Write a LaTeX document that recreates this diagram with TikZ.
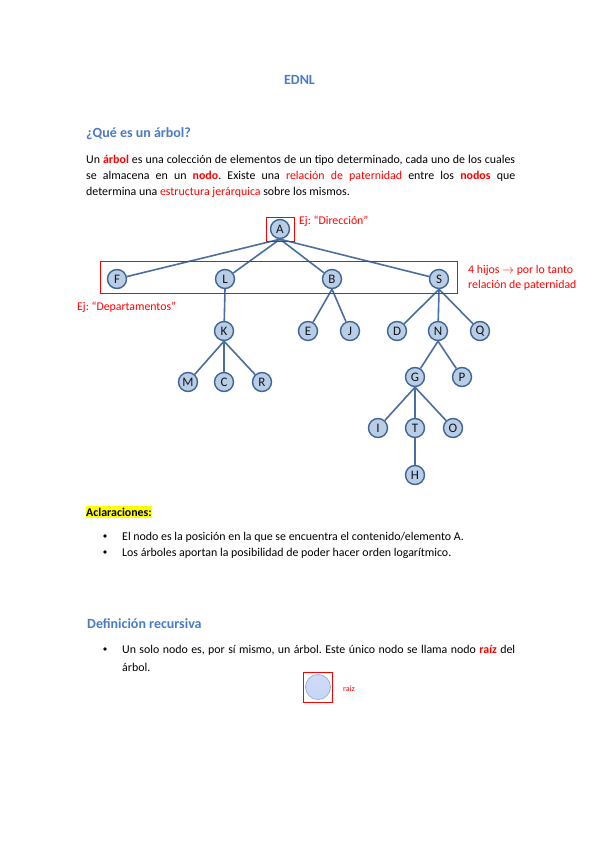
\documentclass[tikz,border=0pt]{standalone}
\usepackage{fontspec}
\setmainfont{Carlito}
\usetikzlibrary{positioning}
\definecolor{headblue}{HTML}{4A7BC6}
\definecolor{nodefill}{HTML}{B9CDE5}
\definecolor{nodedraw}{HTML}{3F6597}
\definecolor{edgecol}{HTML}{4A6E9F}
\definecolor{txtred}{HTML}{FF0000}
\definecolor{nodetxt}{HTML}{10151F}
\definecolor{hlyellow}{HTML}{FFFF00}
\definecolor{rootfill}{HTML}{C7D6F6}
\definecolor{rootdraw}{HTML}{9AB3E3}
\begin{document}
\frenchspacing
\begin{tikzpicture}[x=1pt,y=-1pt,
  tnode/.style={circle,draw=nodedraw,fill=nodefill,line width=1.4pt,minimum size=19pt,inner sep=0pt,font=\fontsize{13}{15}\selectfont,text=nodetxt},
  edge/.style={draw=edgecol,line width=1.6pt},
  redbox/.style={draw=txtred,line width=1pt},
  redlbl/.style={text=txtred,font=\fontsize{11.8}{14}\selectfont,inner sep=0pt},
  body/.style={inner sep=0pt,font=\fontsize{11.9}{16}\selectfont,text=black},
  heading/.style={inner sep=0pt,font=\bfseries\fontsize{14}{17}\selectfont,text=headblue},
  bul/.style={circle,fill=black,inner sep=0pt,minimum size=3.8pt}
]
\useasboundingbox[fill=white] (0,0) rectangle (599,848);

% title and heading
\node[inner sep=0pt,anchor=base,font=\bfseries\fontsize{14}{16}\selectfont,text=headblue] (title) at (299.5,85) {EDNL};
\node[heading,anchor=base west] (h1) at (86,138) {¿Qué es un árbol?};

% paragraph
\node[body,anchor=base west] (p1) at (86,163) {\makebox[429pt][s]{Un \textcolor{txtred}{\textbf{árbol}} es una colección de elementos de un tipo determinado, cada uno de los cuales}};
\node[body,anchor=base west] (p2) at (86,179) {\makebox[429pt][s]{se almacena en un \textcolor{txtred}{\textbf{nodo}}. Existe una \textcolor{txtred}{relación de paternidad} entre los \textcolor{txtred}{\textbf{nodos}} que}};
\node[body,anchor=base west] (p3) at (86,195) {determina una \textcolor{txtred}{estructura jerárquica} sobre los mismos.};

% tree nodes
\node[tnode] (A) at (280,229) {A};
\node[tnode] (F) at (117,279) {F};
\node[tnode] (L) at (225,279) {L};
\node[tnode] (B) at (332,279) {B};
\node[tnode] (S) at (439,279) {S};
\node[tnode] (K) at (224,331) {K};
\node[tnode] (E) at (308,331) {E};
\node[tnode] (J) at (350,331) {J};
\node[tnode] (D) at (397,331) {D};
\node[tnode] (N) at (438,331) {N};
\node[tnode] (Q) at (480,331) {Q};
\node[tnode] (M) at (188,382) {M};
\node[tnode] (C) at (224,382) {C};
\node[tnode] (R) at (262,382) {R};
\node[tnode] (G) at (415,377) {G};
\node[tnode] (P) at (462,377) {P};
\node[tnode] (I) at (378,428) {I};
\node[tnode] (T) at (415,428) {T};
\node[tnode] (O) at (453,428) {O};
\node[tnode] (H) at (415,475) {H};

% edges
\foreach \p/\c in {A/F,A/L,A/B,A/S,L/K,B/E,B/J,S/D,S/N,S/Q,K/M,K/C,K/R,N/G,N/P,G/I,G/T,G/O,T/H}
  \draw[edge] (\p.south) -- (\c);

% red boxes and labels
\node[redbox,minimum width=28pt,minimum height=24pt,inner sep=0pt] (boxA) at (280,229) {};
\node[redbox,minimum width=357pt,minimum height=32pt,inner sep=0pt] (boxRow) at (278.5,277) {};
\node[redlbl,anchor=west] (lDir) at (299,221) {Ej: “Dirección”};
\node[redlbl,anchor=west] (lHijos1) at (468,270) {4 hijos $\rightarrow$ por lo tanto};
\node[redlbl,anchor=west] (lHijos2) at (468,285) {relación de paternidad};
\node[redlbl,anchor=west] (lDep) at (77,307) {Ej: “Departamentos”};

% Aclaraciones
\node[body,anchor=base west,fill=hlyellow,inner xsep=0pt,inner ysep=1.5pt,font=\bfseries\fontsize{11.9}{16}\selectfont] (acl) at (86,516) {Aclaraciones:};
\node[bul] (b1) at (105,536) {};
\node[body,anchor=base west] (t1) at (122,540) {El nodo es la posición en la que se encuentra el contenido/elemento A.};
\node[bul] (b2) at (105,552) {};
\node[body,anchor=base west] (t2) at (122,556) {Los árboles aportan la posibilidad de poder hacer orden logarítmico.};

% Definición recursiva
\node[heading,anchor=base west] (h2) at (87,628) {Definición recursiva};
\node[bul] (b3) at (105,649) {};
\node[body,anchor=base west] (t3) at (122,653) {\makebox[393pt][s]{Un solo nodo es, por sí mismo, un árbol. Este único nodo se llama nodo \textcolor{txtred}{\textbf{raíz}} del}};
\node[body,anchor=base west] (t4) at (122,671) {árbol.};

% root illustration
\node[circle,draw=rootdraw,line width=0.8pt,top color=rootfill!85!white,bottom color=rootfill,minimum size=25pt,inner sep=0pt] (root) at (318,687) {};
\node[redbox,minimum width=29pt,minimum height=30pt,inner sep=0pt] (boxRoot) at (317.5,687) {};
\node[inner sep=0pt,anchor=west,text=txtred,font=\fontsize{8}{10}\selectfont] (lRoot) at (343,689) {raíz};
\end{tikzpicture}
\end{document}
